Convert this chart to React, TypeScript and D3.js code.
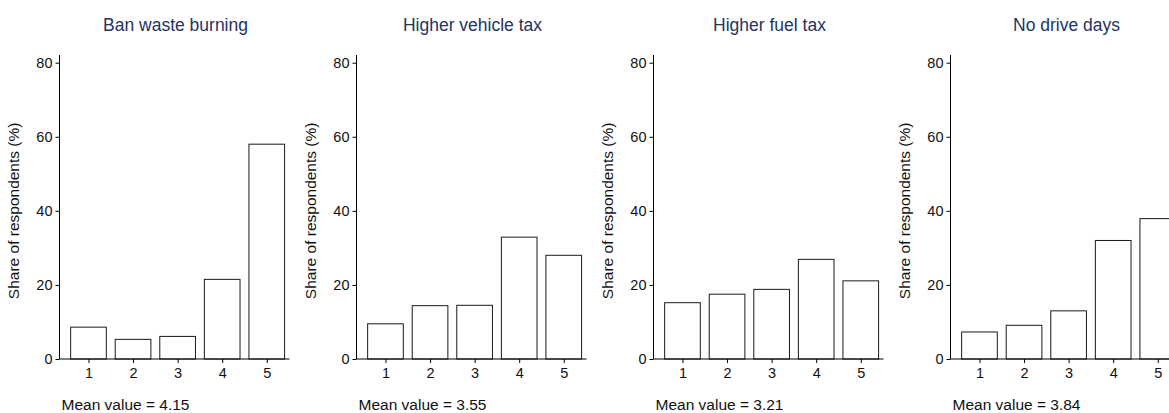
import React, { useEffect, useRef } from "react";
import * as d3 from "d3";

const policies = ["Ban waste burning", "Higher vehicle tax", "Higher fuel tax", "No drive days"];
const categories = [1, 2, 3, 4, 5];
const banWasteBurning = [8.6, 5.3, 6.1, 21.5, 58.0];
const higherVehicleTax = [9.5, 14.4, 14.5, 32.9, 28.0];
const higherFuelTax = [15.2, 17.5, 18.8, 26.9, 21.1];
const noDriveDays = [7.3, 9.1, 13.0, 32.0, 37.9];
const meanValues = ["4.15", "3.55", "3.21", "3.84"];
const yTicks = [0, 20, 40, 60, 80];

const series = [banWasteBurning, higherVehicleTax, higherFuelTax, noDriveDays];

const FONT = "'Liberation Sans', Arial, Helvetica, sans-serif";

const App: React.FC = () => {
  const svgRef = useRef<SVGSVGElement | null>(null);

  useEffect(() => {
    document.body.style.margin = "0";
    document.body.style.overflow = "hidden";

    const svg = d3.select(svgRef.current);
    svg.selectAll("*").remove();

    const plotW = 230;
    const top = 62.7;
    const bottom = 359;

    const y = d3.scaleLinear().domain([0, 80]).range([bottom, top]);

    policies.forEach((title, i) => {
      const ax = 59.5 + 297 * i;
      const g = svg.append("g").attr("transform", `translate(${ax},0)`);
      const x = d3.scaleLinear().domain([0.35, 5.51]).range([0, plotW]);
      const barW = x(1.8) - x(1);

      // bars
      g.selectAll("rect.bar")
        .data(series[i])
        .enter()
        .append("rect")
        .attr("class", "bar")
        .attr("x", (_d, k) => x(categories[k]) - barW / 2)
        .attr("width", barW)
        .attr("y", (d) => y(d))
        .attr("height", (d) => bottom - y(d))
        .attr("fill", "#fff")
        .attr("stroke", "#1a1a1a")
        .attr("stroke-width", 1);

      // y axis
      const yAxis = g
        .append("g")
        .call(d3.axisLeft(y).tickValues(yTicks).tickSize(4).tickPadding(3).tickSizeOuter(0));
      yAxis.select(".domain").remove();
      g.append("line")
        .attr("x1", 0)
        .attr("x2", 0)
        .attr("y1", bottom)
        .attr("y2", 55)
        .attr("stroke", "#000");

      // x axis
      const xAxis = g
        .append("g")
        .attr("transform", `translate(0,${bottom})`)
        .call(
          d3
            .axisBottom(x)
            .tickValues(categories)
            .tickFormat(d3.format("d"))
            .tickSize(4)
            .tickPadding(5)
            .tickSizeOuter(0)
        );
      xAxis.select(".domain").remove();
      g.append("line")
        .attr("x1", 0)
        .attr("x2", plotW)
        .attr("y1", bottom)
        .attr("y2", bottom)
        .attr("stroke", "#000");

      g.selectAll(".tick text")
        .attr("font-family", FONT)
        .attr("font-size", 14.5)
        .attr("fill", "#111");
      g.selectAll(".tick line").attr("stroke", "#000");

      // y label
      g.append("text")
        .attr("transform", `translate(-41,${(top + bottom) / 2}) rotate(-90)`)
        .attr("text-anchor", "middle")
        .attr("font-family", FONT)
        .attr("font-size", 15.5)
        .attr("fill", "#111")
        .text("Share of respondents (%)");

      // title
      g.append("text")
        .attr("x", plotW / 2 + 1)
        .attr("y", 31)
        .attr("text-anchor", "middle")
        .attr("font-family", FONT)
        .attr("font-size", 17.5)
        .attr("fill", "#243462")
        .text(title);

      // mean value
      g.append("text")
        .attr("x", 2)
        .attr("y", 410)
        .attr("font-family", FONT)
        .attr("font-size", 15.5)
        .attr("fill", "#111")
        .text(`Mean value = ${meanValues[i]}`);
    });
  }, []);

  return (
    <div style={{ position: "absolute", left: 0, top: 0 }}>
      <svg ref={svgRef} width={1169} height={413} style={{ display: "block", background: "#fff" }}></svg>
    </div>
  );
};

export default App;
